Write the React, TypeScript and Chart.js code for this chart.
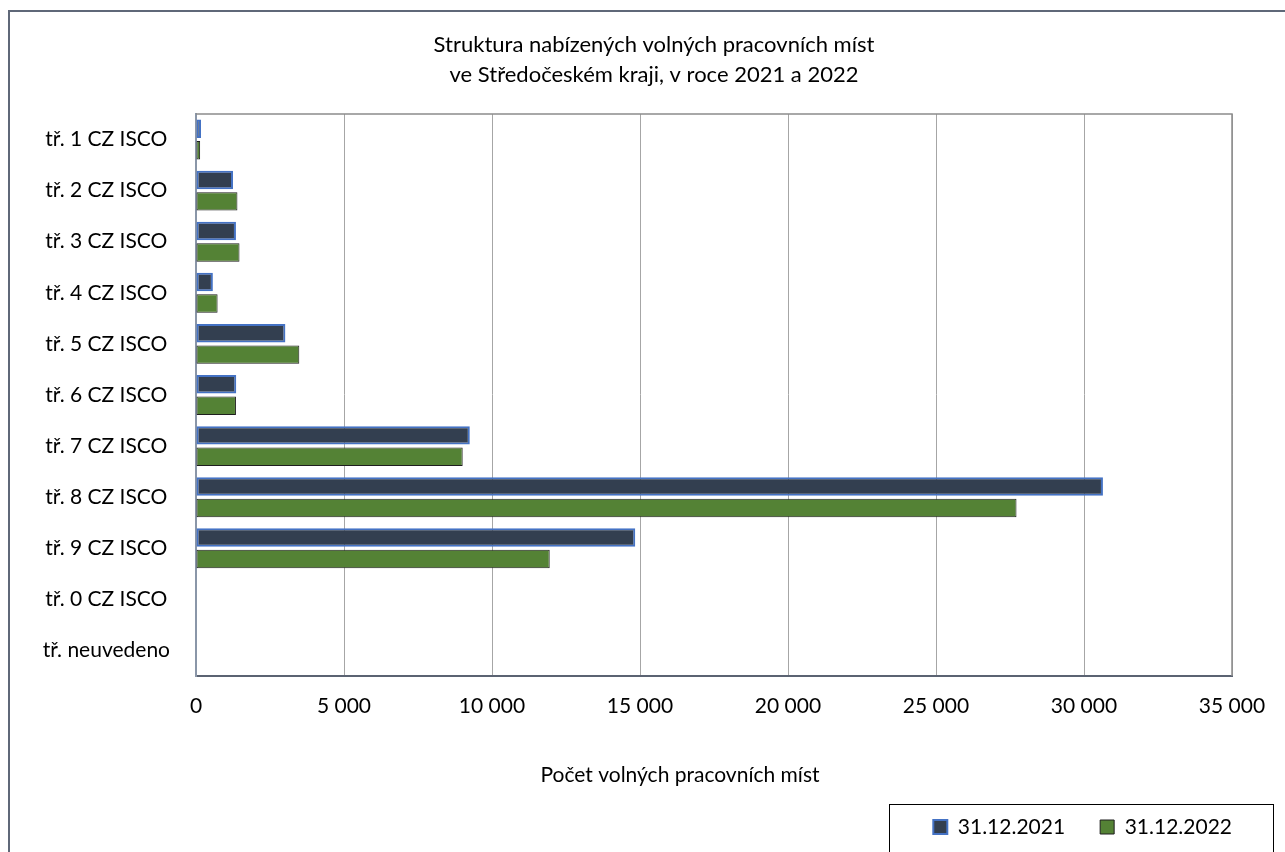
import React, { useEffect, useRef } from 'react';
import { Chart, registerables } from 'chart.js';

Chart.register(...registerables);

// ---- data ----
const categories: string[] = [
  'tř. 1 CZ ISCO',
  'tř. 2 CZ ISCO',
  'tř. 3 CZ ISCO',
  'tř. 4 CZ ISCO',
  'tř. 5 CZ ISCO',
  'tř. 6 CZ ISCO',
  'tř. 7 CZ ISCO',
  'tř. 8 CZ ISCO',
  'tř. 9 CZ ISCO',
  'tř. 0 CZ ISCO',
  'tř. neuvedeno',
];
const values2021: number[] = [170, 1250, 1350, 570, 3020, 1360, 9250, 30640, 14840, 0, 0];
const values2022: number[] = [140, 1400, 1470, 730, 3490, 1350, 9010, 27720, 11950, 0, 0];
const seriesLabels: string[] = ['31.12.2021', '31.12.2022'];
const axisMin = 0;
const axisMax = 35000;
const axisStep = 5000;
const titleLines: string[] = [
  'Struktura nabízených volných pracovních míst',
  've Středočeském kraji, v roce 2021 a 2022',
];
const xAxisTitle = 'Počet volných pracovních míst';

const FONT = 'Lato, "Noto Sans", sans-serif';
const FS = 21;
const CW = 1275;
const CH = 840;
const PLOT_BOTTOM = 664;

const fmt = (v: number) => String(v).replace(/\B(?=(\d{3})+(?!\d))/g, ' ');

const framePlugin = {
  id: 'frame',
  afterLayout(chart: any) {
    // centre the two-line title over the whole frame
    const tb = chart.titleBlock;
    if (tb) {
      const w = tb.right - tb.left;
      tb.left = 644 - w / 2;
      tb.right = 644 + w / 2;
    }
    // legend placement (bottom right, inside its own frame)
    const lg = chart.legend;
    if (!lg) return;
    const pad = lg.options.labels.padding;
    const dx = 1222 + pad - lg.right;
    lg.left += dx;
    lg.right += dx;
    const itemH = lg.legendHitBoxes && lg.legendHitBoxes[0] ? lg.legendHitBoxes[0].height : FS;
    const h = lg.bottom - lg.top;
    const newTop = 815 - pad - itemH / 2;
    lg.top = newTop;
    lg.bottom = newTop + h;
  },
  afterDraw(chart: any) {
    const { ctx, chartArea: ca } = chart;
    ctx.save();
    // top and right edge of the plot area
    ctx.strokeStyle = '#8c8c8c';
    ctx.lineWidth = 1.5;
    ctx.beginPath();
    ctx.moveTo(ca.left, ca.top);
    ctx.lineTo(ca.right, ca.top);
    ctx.lineTo(ca.right, ca.bottom);
    ctx.stroke();
    // x axis title
    ctx.fillStyle = '#000';
    ctx.font = `${FS}px ${FONT}`;
    ctx.textAlign = 'center';
    ctx.textBaseline = 'middle';
    ctx.fillText(xAxisTitle, (ca.left + ca.right) / 2 - 34, ca.bottom + 99);
    // legend frame
    const hb = chart.legend && chart.legend.legendHitBoxes;
    if (hb && hb.length) {
      const first = hb[0];
      const last = hb[hb.length - 1];
      const cy = first.top + first.height / 2;
      const left = first.left - 44;
      const right = last.left + last.width + 41;
      const top = cy - 23;
      ctx.strokeStyle = '#000';
      ctx.lineWidth = 1;
      ctx.strokeRect(Math.round(left) + 0.5, Math.round(top) + 0.5, Math.round(right - left), chart.height - top + 10);
    }
    ctx.restore();
  },
};

export default function App() {
  const ref = useRef<HTMLCanvasElement | null>(null);
  useEffect(() => {
    if (!ref.current) return;
    const chart = new Chart(ref.current, {
      type: 'bar',
      data: {
        labels: categories,
        datasets: [
          {
            label: seriesLabels[0],
            data: values2021,
            backgroundColor: '#333f50',
            borderColor: '#4472c4',
            borderWidth: 2,
            borderSkipped: false,
            categoryPercentage: 0.84,
            barPercentage: 0.86,
          },
          {
            label: seriesLabels[1],
            data: values2022,
            backgroundColor: '#548235',
            borderColor: '#1e1e1e',
            borderWidth: 1,
            borderSkipped: false,
            categoryPercentage: 0.84,
            barPercentage: 0.86,
          },
        ],
      },
      options: {
        indexAxis: 'y',
        responsive: false,
        animation: false,
        layout: { padding: { left: 0, right: 53, top: 0, bottom: 0 } },
        scales: {
          x: {
            min: axisMin,
            max: axisMax,
            ticks: {
              stepSize: axisStep,
              color: '#000',
              font: { family: FONT, size: FS },
              padding: 18,
              maxRotation: 0,
              callback: (v: any) => fmt(Number(v)),
            },
            grid: { color: '#a6a6a6', lineWidth: 1, drawTicks: false },
            border: { display: true, color: '#5b6372', width: 2 },
            title: { display: false },
            afterFit: (s: any) => {
              const lgH = s.chart.legend ? s.chart.legend.height : 0;
              s.height = s.chart.height - lgH - PLOT_BOTTOM;
            },
          },
          y: {
            grid: { display: false, drawTicks: false },
            border: { display: true, color: '#8a96a8', width: 2 },
            ticks: {
              color: '#000',
              font: { family: FONT, size: FS },
              padding: 26,
              crossAlign: 'center',
            },
            afterFit: (s: any) => {
              s.width = 186;
            },
          },
        },
        plugins: {
          title: {
            display: true,
            text: titleLines,
            color: '#000',
            font: { family: FONT, size: 22, weight: 'normal', lineHeight: '30px' },
            padding: { top: 18, bottom: 24 },
          },
          legend: {
            position: 'bottom',
            align: 'end',
            labels: {
              boxWidth: 14,
              boxHeight: 14,
              padding: 35,
              color: '#000',
              font: { family: FONT, size: FS },
            },
          },
          tooltip: { enabled: false },
        },
      } as any,
      plugins: [framePlugin],
    });
    return () => chart.destroy();
  }, []);

  return (
    <div
      style={{
        position: 'absolute',
        left: 8,
        top: 10,
        width: 1277,
        height: 842,
        borderTop: '2px solid #5f6878',
        borderLeft: '2px solid #5f6878',
        boxSizing: 'border-box',
        background: '#fff',
        overflow: 'hidden',
      }}
    >
      <canvas ref={ref} width={CW} height={CH} style={{ display: 'block', width: CW, height: CH }} />
    </div>
  );
}
